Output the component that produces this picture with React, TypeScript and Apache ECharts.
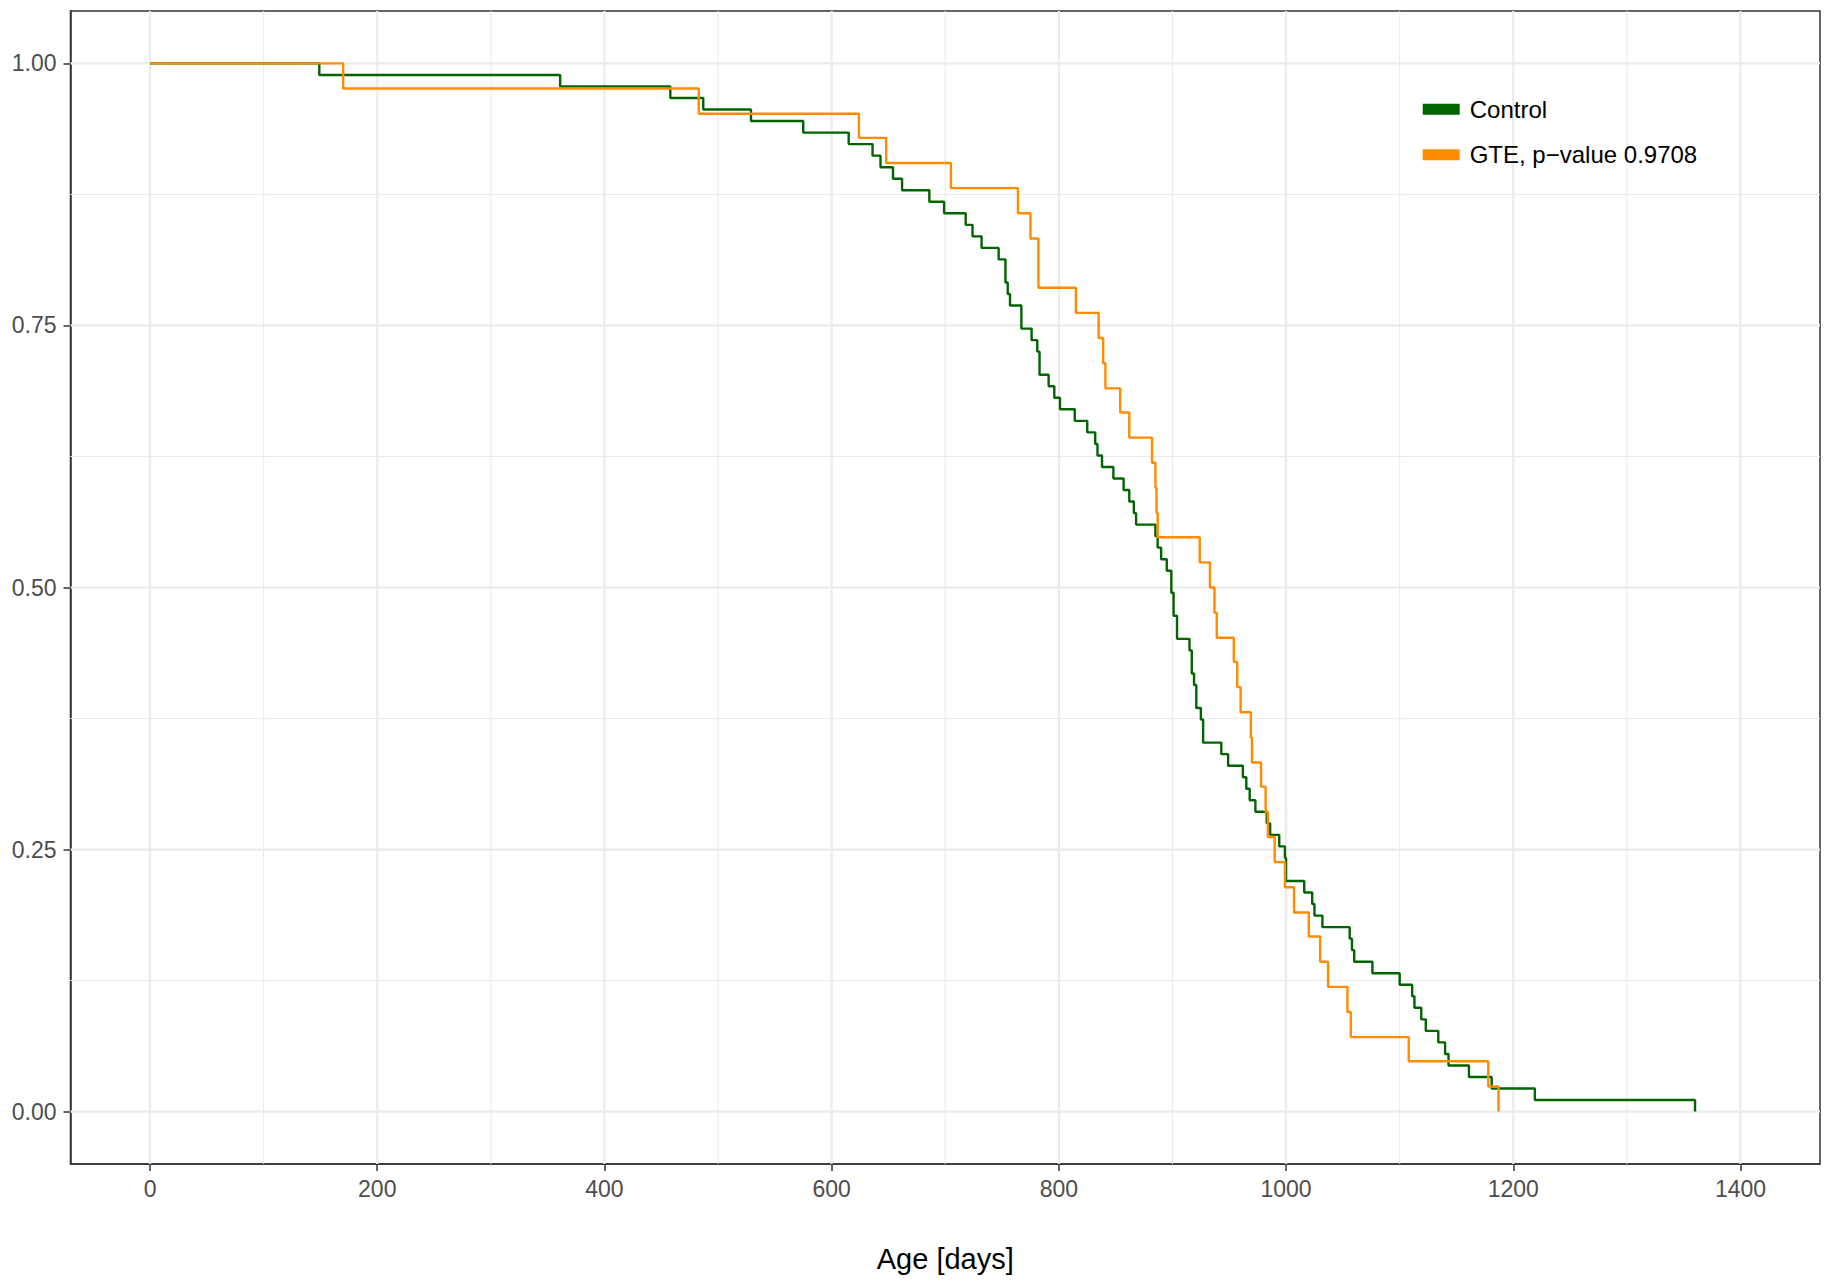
import React, { useEffect, useRef } from 'react';
import * as echarts from 'echarts';

// Kaplan–Meier survival, Control group (age in days, survival fraction)
const controlDays = [
  0, 149, 361, 458, 487, 529, 575, 615, 636, 643, 654, 662, 686, 699, 718, 724, 732, 747,
  753, 755, 757, 767, 776, 781, 783, 791, 796, 801, 814, 825, 832, 834, 838, 848, 857, 862,
  866, 868, 885, 887, 890, 895, 899, 901, 904, 915, 917, 919, 921, 925, 927, 943, 949, 962,
  965, 968, 973, 983, 986, 994, 999, 1000, 1016, 1023, 1025, 1032, 1056, 1058, 1060, 1076,
  1100, 1111, 1113, 1119, 1123, 1134, 1140, 1143, 1161, 1181, 1219, 1360,
];
const controlSurvival = [
  1.0, 0.989, 0.978, 0.967, 0.956, 0.945, 0.934, 0.923, 0.912, 0.901, 0.89, 0.879, 0.868, 0.857, 0.846, 0.835, 0.824, 0.813,
  0.791, 0.78, 0.769, 0.747, 0.736, 0.725, 0.703, 0.692, 0.681, 0.67, 0.659, 0.648, 0.637, 0.626, 0.615, 0.604, 0.593, 0.582,
  0.571, 0.56, 0.549, 0.538, 0.527, 0.516, 0.495, 0.473, 0.451, 0.44, 0.418, 0.407, 0.385, 0.374, 0.352, 0.341, 0.33, 0.319,
  0.308, 0.297, 0.286, 0.275, 0.264, 0.253, 0.242, 0.22, 0.209, 0.198, 0.187, 0.176, 0.165, 0.154, 0.143, 0.132,
  0.121, 0.11, 0.099, 0.088, 0.077, 0.066, 0.055, 0.044, 0.033, 0.022, 0.011, 0.0,
];

// Kaplan–Meier survival, GTE group
const gteDays = [
  0, 170, 483, 624, 648, 705, 764, 775, 782, 815, 835, 839, 841, 854, 862, 882, 885, 886, 887,
  924, 933, 937, 939, 954, 957, 960, 969, 970, 978, 982, 984, 990, 999, 1007, 1020, 1030, 1037,
  1054, 1057, 1108, 1178, 1187,
];
const gteSurvival = [
  1.0, 0.976, 0.952, 0.929, 0.905, 0.881, 0.857, 0.833, 0.786, 0.762, 0.738, 0.714, 0.69, 0.667, 0.643, 0.619, 0.595, 0.571, 0.548,
  0.524, 0.5, 0.476, 0.452, 0.429, 0.405, 0.381, 0.357, 0.333, 0.31, 0.286, 0.262, 0.238, 0.214, 0.19, 0.167, 0.143, 0.119,
  0.095, 0.071, 0.048, 0.024, 0.0,
];

const seriesNames = ['Control', 'GTE, p\u2212value 0.9708'];

const xTicks = [0, 200, 400, 600, 800, 1000, 1200, 1400];
const xMinorTicks = [100, 300, 500, 700, 900, 1100, 1300];
const yTicks = [0, 0.25, 0.5, 0.75, 1.0];
const yMinorTicks = [0.125, 0.375, 0.625, 0.875];
const xRange = [-70, 1470];
const yRange = [-0.05, 1.05];

const COLORS = ['#006400', '#FF8C00'];
const GRID_COLOR = '#EBEBEB';
const FONT = "'Liberation Sans', Arial, Helvetica, sans-serif";

function gridSeries(values: number[], vertical: boolean, width: number) {
  return values.map((v, i) => ({
    name: `grid-${vertical ? 'v' : 'h'}-${width}-${i}`,
    type: 'line',
    silent: true,
    z: 1,
    showSymbol: false,
    symbol: 'none',
    lineStyle: { color: GRID_COLOR, width, type: 'solid' },
    emphasis: { disabled: true },
    data: vertical
      ? [[v, yRange[0]], [v, yRange[1]]]
      : [[xRange[0], v], [xRange[1], v]],
  }));
}

export default function App() {
  const ref = useRef<HTMLDivElement>(null);

  useEffect(() => {
    document.body.style.margin = '0';
    document.body.style.background = '#ffffff';
    if (!ref.current) return;
    const chart = echarts.init(ref.current, undefined, { renderer: 'svg' });

    const controlData = controlDays.map((d, i) => [d, controlSurvival[i]]);
    const gteData = gteDays.map((d, i) => [d, gteSurvival[i]]);

    const option: any = {
      animation: false,
      backgroundColor: '#ffffff',
      textStyle: { fontFamily: FONT },
      grid: {
        left: 70.5,
        right: 6,
        top: 11,
        bottom: 120,
        show: true,
        borderColor: '#333333',
        borderWidth: 1.5,
        backgroundColor: '#ffffff',
      },
      legend: {
        orient: 'vertical',
        left: 1422.7,
        top: 97.3,
        padding: 0,
        itemWidth: 37,
        itemHeight: 11,
        itemGap: 21.4,
        icon: 'rect',
        data: seriesNames,
        selectedMode: false,
        textStyle: {
          fontFamily: FONT,
          fontSize: 24,
          lineHeight: 24,
          color: '#000000',
          padding: [0, 0, 0, 5],
        },
      },
      xAxis: {
        type: 'value',
        min: xRange[0],
        max: xRange[1],
        name: 'Age [days]',
        nameLocation: 'middle',
        nameGap: 80,
        nameTextStyle: { fontFamily: FONT, fontSize: 29, color: '#000000' },
        axisLine: { show: true, onZero: false, lineStyle: { color: '#333333', width: 1.5 } },
        axisTick: {
          show: true,
          length: 7,
          lineStyle: { color: '#333333', width: 1.5 },
          customValues: xTicks,
        },
        axisLabel: {
          show: true,
          margin: 13,
          fontFamily: FONT,
          fontSize: 23,
          color: '#4D4D4D',
          customValues: xTicks,
          formatter: (v: number) => String(v),
        },
        splitLine: { show: false },
        minorSplitLine: { show: false },
      },
      yAxis: {
        type: 'value',
        min: yRange[0],
        max: yRange[1],
        axisLine: { show: true, onZero: false, lineStyle: { color: '#333333', width: 1.5 } },
        axisTick: {
          show: true,
          length: 7,
          lineStyle: { color: '#333333', width: 1.5 },
          customValues: yTicks,
        },
        axisLabel: {
          show: true,
          margin: 14,
          fontFamily: FONT,
          fontSize: 23,
          color: '#4D4D4D',
          customValues: yTicks,
          formatter: (v: number) => v.toFixed(2),
        },
        splitLine: { show: false },
        minorSplitLine: { show: false },
      },
      series: [
        ...gridSeries(xMinorTicks, true, 1.1),
        ...gridSeries(yMinorTicks, false, 1.1),
        ...gridSeries(xTicks, true, 2.2),
        ...gridSeries(yTicks, false, 2.2),
        {
          name: seriesNames[0],
          type: 'line',
          step: 'end',
          z: 3,
          showSymbol: false,
          symbol: 'none',
          color: COLORS[0],
          itemStyle: { color: COLORS[0] },
          lineStyle: { color: COLORS[0], width: 2.4 },
          emphasis: { disabled: true },
          data: controlData,
        },
        {
          name: seriesNames[1],
          type: 'line',
          step: 'end',
          z: 4,
          showSymbol: false,
          symbol: 'none',
          color: COLORS[1],
          itemStyle: { color: COLORS[1] },
          lineStyle: { color: COLORS[1], width: 2.4 },
          emphasis: { disabled: true },
          data: gteData,
        },
      ],
    };

    chart.setOption(option);
    return () => {
      chart.dispose();
    };
  }, []);

  return <div ref={ref} style={{ width: 1826, height: 1284 }} />;
}
